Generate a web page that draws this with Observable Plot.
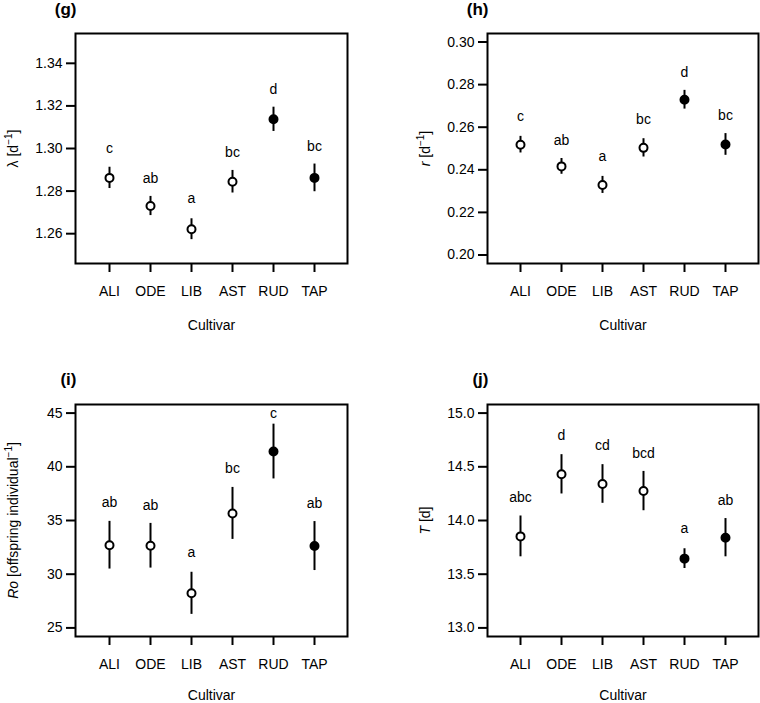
<!DOCTYPE html>
<html>
<head>
<meta charset="utf-8">
<script src="https://cdn.jsdelivr.net/npm/d3@7"></script>
<script src="https://cdn.jsdelivr.net/npm/@observablehq/plot@0.6"></script>
<style>
  html, body { margin: 0; padding: 0; background: #fff; }
  #wrap { position: relative; width: 760px; height: 703px; background: #fff; overflow: hidden; }
  .panel { position: absolute; }
  .panel svg { display: block; }
</style>
</head>
<body>
<div id="wrap"></div>
<script>
// ---------- data ----------
const cultivars = ["ALI", "ODE", "LIB", "AST", "RUD", "TAP"];
const filled = [false, false, false, false, true, true];

// (g) lambda
const lambdaMean = [1.2862, 1.2730, 1.2621, 1.2844, 1.3137, 1.2862];
const lambdaErr  = [0.0050, 0.0045, 0.0049, 0.0053, 0.0057, 0.0065];
const lambdaLetters = ["c", "ab", "a", "bc", "d", "bc"];
const lambdaLetterY = [1.3000, 1.2861, 1.2763, 1.2983, 1.3277, 1.3011];
const lambdaTicks = [1.26, 1.28, 1.30, 1.32, 1.34];

// (h) r
const rMean = [0.2518, 0.2416, 0.2329, 0.2503, 0.2729, 0.2519];
const rErr  = [0.0039, 0.0037, 0.0040, 0.0043, 0.0044, 0.0051];
const rLetters = ["c", "ab", "a", "bc", "d", "bc"];
const rLetterY = [0.2648, 0.2539, 0.2461, 0.2636, 0.2859, 0.2653];
const rTicks = [0.20, 0.22, 0.24, 0.26, 0.28, 0.30];

// (i) Ro
const roMean = [32.70, 32.65, 28.22, 35.66, 41.42, 32.62];
const roErr  = [2.22, 2.08, 1.96, 2.42, 2.55, 2.28];
const roLetters = ["ab", "ab", "a", "bc", "c", "ab"];
const roLetterY = [36.66, 36.40, 32.03, 39.84, 45.0, 36.56];
const roTicks = [25, 30, 35, 40, 45];

// (j) T
const tMean = [13.852, 14.430, 14.340, 14.274, 13.645, 13.840];
const tErr  = [0.190, 0.183, 0.180, 0.183, 0.092, 0.178];
const tLetters = ["abc", "d", "cd", "bcd", "a", "ab"];
const tLetterY = [14.218, 14.787, 14.696, 14.625, 13.922, 14.187];
const tTicks = [13.0, 13.5, 14.0, 14.5, 15.0];

const xLabel = "Cultivar";

// ---------- drawing ----------
const FONT = "'Liberation Sans', Arial, Helvetica, sans-serif";

function panel({tag, mean, err, letters, letterY, ticks, tickFmt, yDomain, yLabelParts,
                left, top, width, height, mL, mR, mT, mB, titleDy, xlabDy}) {
  const rows = cultivars.map((c, i) => ({
    c, m: mean[i], lo: mean[i] - err[i], hi: mean[i] + err[i],
    f: filled[i], L: letters[i], ly: letterY[i]
  }));
  const plainLabel = yLabelParts.map(p => p[0]).join("");
  const chart = Plot.plot({
    width, height,
    marginLeft: mL, marginRight: mR, marginTop: mT, marginBottom: mB,
    style: {fontFamily: FONT, fontSize: "14px", background: "#fff", color: "#000", overflow: "visible"},
    x: {type: "point", domain: cultivars, padding: 0.74},
    y: {domain: yDomain},
    marks: [
      Plot.frame({stroke: "#000", strokeWidth: 2}),
      Plot.axisY(ticks, {tickSize: 9, tickPadding: 4, strokeWidth: 2, tickFormat: tickFmt,
                         label: null, fontSize: 14}),
      Plot.axisX({tickSize: 9, tickPadding: 14, strokeWidth: 2, label: null, fontSize: 14}),
      Plot.ruleX(rows, {x: "c", y1: "lo", y2: "hi", stroke: "#000", strokeWidth: 2}),
      Plot.dot(rows, {x: "c", y: "m", r: 4, stroke: "#000", strokeWidth: 2,
                      fill: d => d.f ? "#000" : "#fff"}),
      Plot.text(rows, {x: "c", y: "ly", text: "L", fontSize: 14, fill: "#000"}),
      Plot.text([tag], {frameAnchor: "top-left", textAnchor: "end", lineAnchor: "middle",
                        dx: 1, dy: titleDy, fontWeight: "bold", fontSize: 17, fill: "#000"}),
      Plot.text([xLabel], {frameAnchor: "bottom", textAnchor: "middle", lineAnchor: "middle",
                           dy: xlabDy, fontSize: 14, fill: "#000"}),
      Plot.text([plainLabel], {frameAnchor: "left", textAnchor: "middle", lineAnchor: "middle",
                               rotate: -90, dx: -62, fontSize: 14, fill: "#000"})
    ]
  });
  // rich y label (italic symbol, superscript)
  d3.select(chart).selectAll("text")
    .filter(function() { return this.textContent === plainLabel; })
    .each(function() {
      const t = d3.select(this);
      t.text(null);
      let shifted = false;
      for (const [s, style] of yLabelParts) {
        const ts = t.append("tspan").text(s);
        if (style === "i") ts.attr("font-style", "italic");
        if (style === "sup") { ts.attr("font-size", 10).attr("dy", -6); shifted = true; }
        else if (shifted) { ts.attr("dy", 6); shifted = false; }
      }
    });
  const div = document.createElement("div");
  div.className = "panel";
  div.style.left = left + "px";
  div.style.top = top + "px";
  div.appendChild(chart);
  document.getElementById("wrap").appendChild(div);
}

const f2 = d3.format(".2f");
const f0 = d3.format("d");
const f1 = d3.format(".1f");

panel({tag: "(g)", mean: lambdaMean, err: lambdaErr, letters: lambdaLetters, letterY: lambdaLetterY,
  ticks: lambdaTicks, tickFmt: f2, yDomain: [1.246, 1.354],
  yLabelParts: [["λ [d", ""], ["−1", "sup"], ["]", ""]],
  left: 0, top: 0, width: 380, height: 350, mL: 75, mR: 33, mT: 33, mB: 87, titleDy: -24, xlabDy: 62});

panel({tag: "(h)", mean: rMean, err: rErr, letters: rLetters, letterY: rLetterY,
  ticks: rTicks, tickFmt: f2, yDomain: [0.196, 0.304],
  yLabelParts: [["r", "i"], [" [d", ""], ["−1", "sup"], ["]", ""]],
  left: 380, top: 0, width: 380, height: 350, mL: 107, mR: 2, mT: 33, mB: 87, titleDy: -24, xlabDy: 62});

panel({tag: "(i)", mean: roMean, err: roErr, letters: roLetters, letterY: roLetterY,
  ticks: roTicks, tickFmt: f0, yDomain: [24.2, 45.8],
  yLabelParts: [["Ro", "i"], [" [offspring individual", ""], ["−1", "sup"], ["]", ""]],
  left: 0, top: 350, width: 380, height: 353, mL: 75, mR: 33, mT: 54, mB: 67, titleDy: -25, xlabDy: 59});

panel({tag: "(j)", mean: tMean, err: tErr, letters: tLetters, letterY: tLetterY,
  ticks: tTicks, tickFmt: f1, yDomain: [12.92, 15.08],
  yLabelParts: [["T", "i"], [" [d]", ""]],
  left: 380, top: 350, width: 380, height: 353, mL: 107, mR: 2, mT: 54, mB: 67, titleDy: -25, xlabDy: 59});
</script>
</body>
</html>
